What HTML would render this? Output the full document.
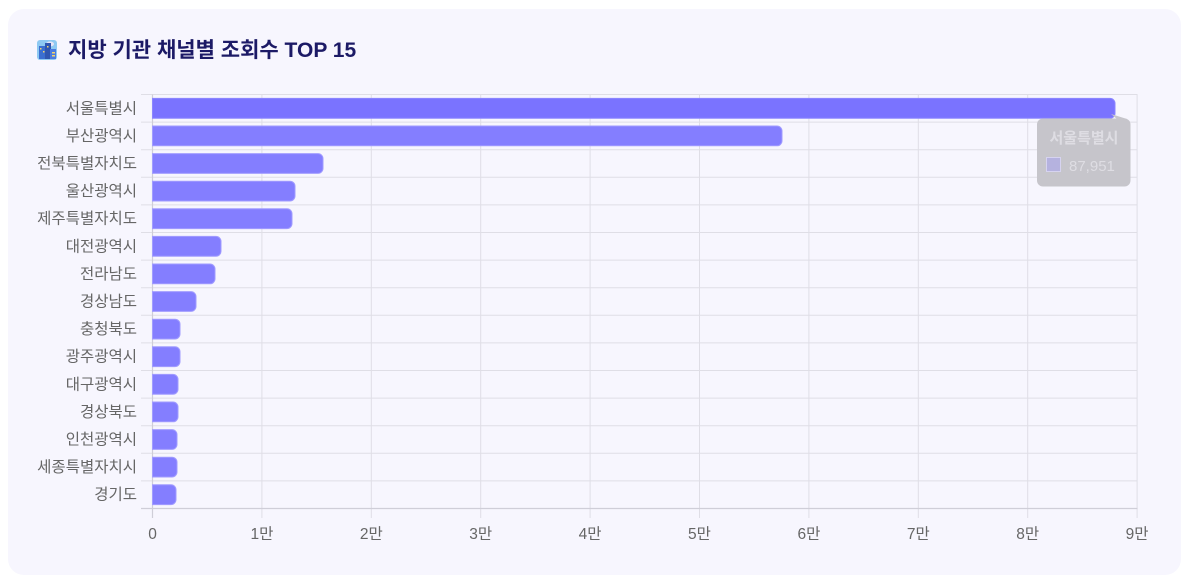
<!DOCTYPE html>
<html><head><meta charset="utf-8">
<style>
html,body{margin:0;padding:0;background:#ffffff;}
body{width:1190px;height:579px;overflow:hidden;position:relative;font-family:"Liberation Sans","Noto Sans CJK KR",sans-serif;}
.card{position:absolute;left:8px;top:9px;width:1173px;height:566px;border-radius:16px;background:#f7f6fe;}
svg{position:absolute;left:0;top:0;}
</style></head>
<body>
<div class="card"></div>
<svg width="1190" height="579" viewBox="0 0 1190 579" xmlns="http://www.w3.org/2000/svg" font-family="Liberation Sans, Noto Sans CJK KR, sans-serif">
  <!-- title icon -->
  <g>
    <rect x="37" y="40" width="20" height="20" rx="3" fill="#8ec9f2"/>
    <ellipse cx="50" cy="44" rx="4" ry="2.5" fill="#e8e4f5"/>
    <rect x="39" y="46" width="7" height="13" fill="#3b6fd0"/>
    <rect x="45" y="43" width="6" height="16" fill="#2f56b0"/>
    <rect x="50" y="49" width="6" height="10" fill="#4a7be0"/>
    <rect x="40" y="48" width="1.5" height="1.5" fill="#f3d36b"/>
    <rect x="43" y="51" width="1.5" height="1.5" fill="#f3d36b"/>
    <rect x="47" y="46" width="1.5" height="1.5" fill="#f3d36b"/>
    <rect x="52" y="52" width="3" height="1.5" fill="#f3d36b"/>
    <rect x="52" y="55" width="3" height="1.5" fill="#f3d36b"/>
  </g>
  <text x="68" y="57" font-size="21" font-weight="bold" fill="#1c1a66">지방 기관 채널별 조회수 TOP 15</text>

  <!-- grid horizontal -->
  <g stroke="#dfdee6" stroke-width="1">
    <line x1="141" y1="94.5" x2="1137.5" y2="94.5"/>
    <line x1="141" y1="122.1" x2="1137.5" y2="122.1"/>
    <line x1="141" y1="149.7" x2="1137.5" y2="149.7"/>
    <line x1="141" y1="177.3" x2="1137.5" y2="177.3"/>
    <line x1="141" y1="204.9" x2="1137.5" y2="204.9"/>
    <line x1="141" y1="232.5" x2="1137.5" y2="232.5"/>
    <line x1="141" y1="260.1" x2="1137.5" y2="260.1"/>
    <line x1="141" y1="287.7" x2="1137.5" y2="287.7"/>
    <line x1="141" y1="315.3" x2="1137.5" y2="315.3"/>
    <line x1="141" y1="342.9" x2="1137.5" y2="342.9"/>
    <line x1="141" y1="370.5" x2="1137.5" y2="370.5"/>
    <line x1="141" y1="398.1" x2="1137.5" y2="398.1"/>
    <line x1="141" y1="425.7" x2="1137.5" y2="425.7"/>
    <line x1="141" y1="453.3" x2="1137.5" y2="453.3"/>
    <line x1="141" y1="480.9" x2="1137.5" y2="480.9"/>
  </g>
  <!-- grid vertical -->
  <g stroke="#dfdee6" stroke-width="1">
    <line x1="261.9" y1="94.5" x2="261.9" y2="518"/>
    <line x1="371.3" y1="94.5" x2="371.3" y2="518"/>
    <line x1="480.7" y1="94.5" x2="480.7" y2="518"/>
    <line x1="590.1" y1="94.5" x2="590.1" y2="518"/>
    <line x1="699.5" y1="94.5" x2="699.5" y2="518"/>
    <line x1="808.9" y1="94.5" x2="808.9" y2="518"/>
    <line x1="918.3" y1="94.5" x2="918.3" y2="518"/>
    <line x1="1027.7" y1="94.5" x2="1027.7" y2="518"/>
    <line x1="1137.1" y1="94.5" x2="1137.1" y2="518"/>
  </g>
  <!-- axes -->
  <line x1="141" y1="508.5" x2="1137.5" y2="508.5" stroke="#cfced8" stroke-width="1.2"/>
  <line x1="152.5" y1="94.5" x2="152.5" y2="518" stroke="#cfced8" stroke-width="1.2"/>

  <!-- bars -->
  <g fill="#847eff" stroke="#a19cff" stroke-width="1">
    <path d="M152.5 126.0 H777 a5 5 0 0 1 5 5 V140.8 a5 5 0 0 1 -5 5 H152.5 Z"/>
    <path d="M152.5 153.6 H318 a5 5 0 0 1 5 5 V168.4 a5 5 0 0 1 -5 5 H152.5 Z"/>
    <path d="M152.5 181.2 H290 a5 5 0 0 1 5 5 V196.0 a5 5 0 0 1 -5 5 H152.5 Z"/>
    <path d="M152.5 208.8 H287 a5 5 0 0 1 5 5 V223.6 a5 5 0 0 1 -5 5 H152.5 Z"/>
    <path d="M152.5 236.4 H216 a5 5 0 0 1 5 5 V251.2 a5 5 0 0 1 -5 5 H152.5 Z"/>
    <path d="M152.5 264.0 H210 a5 5 0 0 1 5 5 V278.8 a5 5 0 0 1 -5 5 H152.5 Z"/>
    <path d="M152.5 291.6 H191 a5 5 0 0 1 5 5 V306.4 a5 5 0 0 1 -5 5 H152.5 Z"/>
    <path d="M152.5 319.2 H175 a5 5 0 0 1 5 5 V334.0 a5 5 0 0 1 -5 5 H152.5 Z"/>
    <path d="M152.5 346.8 H175 a5 5 0 0 1 5 5 V361.6 a5 5 0 0 1 -5 5 H152.5 Z"/>
    <path d="M152.5 374.4 H173 a5 5 0 0 1 5 5 V389.2 a5 5 0 0 1 -5 5 H152.5 Z"/>
    <path d="M152.5 402.0 H173 a5 5 0 0 1 5 5 V416.8 a5 5 0 0 1 -5 5 H152.5 Z"/>
    <path d="M152.5 429.6 H172 a5 5 0 0 1 5 5 V444.4 a5 5 0 0 1 -5 5 H152.5 Z"/>
    <path d="M152.5 457.2 H172 a5 5 0 0 1 5 5 V472.0 a5 5 0 0 1 -5 5 H152.5 Z"/>
    <path d="M152.5 484.8 H171 a5 5 0 0 1 5 5 V499.6 a5 5 0 0 1 -5 5 H152.5 Z"/>
  </g>
  <path d="M152.5 98.4 H1110 a5 5 0 0 1 5 5 V113.2 a5 5 0 0 1 -5 5 H152.5 Z" fill="#7a73ff" stroke="#8c86ff" stroke-width="1"/>

  <!-- y labels -->
  <g font-size="15.5" fill="#666666" text-anchor="end">
    <text x="137" y="113.3">서울특별시</text>
    <text x="137" y="140.9">부산광역시</text>
    <text x="137" y="168.5">전북특별자치도</text>
    <text x="137" y="196.1">울산광역시</text>
    <text x="137" y="223.7">제주특별자치도</text>
    <text x="137" y="251.3">대전광역시</text>
    <text x="137" y="278.9">전라남도</text>
    <text x="137" y="306.5">경상남도</text>
    <text x="137" y="334.1">충청북도</text>
    <text x="137" y="361.7">광주광역시</text>
    <text x="137" y="389.3">대구광역시</text>
    <text x="137" y="416.9">경상북도</text>
    <text x="137" y="444.5">인천광역시</text>
    <text x="137" y="472.1">세종특별자치시</text>
    <text x="137" y="499.7">경기도</text>
  </g>
  <!-- x labels -->
  <g font-size="15.5" fill="#666666" text-anchor="middle">
    <text x="152.5" y="539">0</text>
    <text x="261.9" y="539">1만</text>
    <text x="371.3" y="539">2만</text>
    <text x="480.7" y="539">3만</text>
    <text x="590.1" y="539">4만</text>
    <text x="699.5" y="539">5만</text>
    <text x="808.9" y="539">6만</text>
    <text x="918.3" y="539">7만</text>
    <text x="1027.7" y="539">8만</text>
    <text x="1137.1" y="539">9만</text>
  </g>

  <!-- tooltip -->
  <g>
    <polygon points="1111,114 1117,119 1127,119" fill="#c6c5cb"/>
    <rect x="1037" y="118.5" width="93.5" height="68" rx="6" fill="#c6c5cb"/>
    <text x="1084" y="143" font-size="15" font-weight="bold" fill="#dedde3" text-anchor="middle">서울특별시</text>
    <rect x="1046.5" y="157.5" width="14" height="14" fill="#b5b2df" stroke="#d6d3f0" stroke-width="1"/>
    <text x="1069" y="171" font-size="15" fill="#dedde3">87,951</text>
  </g>
</svg>
</body></html>
